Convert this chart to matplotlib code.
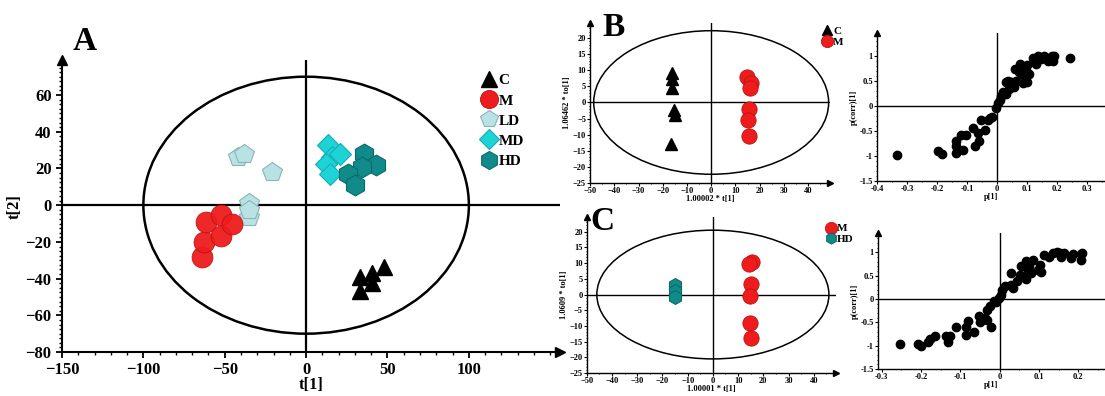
import numpy as np
import matplotlib
matplotlib.use('Agg')
import matplotlib.pyplot as plt
from matplotlib.patches import Ellipse
from matplotlib.ticker import MultipleLocator
from matplotlib.lines import Line2D

plt.rcParams['font.family'] = ['Liberation Serif', 'DejaVu Serif']
plt.rcParams['font.weight'] = 'bold'

# ---------------- data ----------------
# panel A, PCA scores
a_c_x = [33.3, 40.6, 48, 33.3, 40.6]
a_c_y = [-39, -37, -33.5, -47, -42.6]
a_m_x = [-64, -62.5, -61.4, -52, -52, -45.4]
a_m_y = [-28, -20, -9, -5.4, -17, -10]
a_ld_x = [-41.7, -38, -21, -35.4, -35.4, -35.4]
a_ld_y = [26.3, 28, 18, 1, -6.3, -2.5]
a_md_x = [13.5, 15.6, 20.8, 12.5, 14.6]
a_md_y = [32.6, 26, 28, 22.6, 17.2]
a_hd_x = [35.4, 42.7, 34.4, 26, 30.2]
a_hd_y = [28, 21.7, 20.8, 17.2, 10.9]

# panel B, OPLS-DA scores C vs M
b_c_x = [-16, -16, -16, -15.5, -15, -16.5]
b_c_y = [9.2, 7.3, 4.6, -2.2, -4, -12.8]
b_m_x = [14.8, 16.5, 16, 15.5, 15, 15.5]
b_m_y = [8, 6.2, 4.4, -1.9, -5.5, -10.5]

# panel B, S-plot
bs_x = [-0.333, -0.197, -0.182, -0.138, -0.138, -0.136, -0.119, -0.102, -0.113, -0.08,
        -0.074, -0.063, -0.06, -0.052, -0.038, -0.03, -0.024, -0.016, -0.004, 0.003,
        0.009, 0.014, 0.022, 0.031, 0.029, 0.042, 0.048, 0.056, 0.059, 0.073,
        0.078, 0.084, 0.087, 0.096, 0.101, 0.109, 0.12, 0.131, 0.137, 0.148,
        0.156, 0.17, 0.184, 0.189, 0.19, 0.244, 0.1, 0.038, 0.065, 0.125]
bs_y = [-0.99, -0.91, -0.96, -0.95, -0.81, -0.7, -0.58, -0.58, -0.88, -0.45,
        -0.81, -0.55, -0.7, -0.28, -0.48, -0.28, -0.25, -0.22, -0.05, 0.05,
        0.11, 0.19, 0.28, 0.23, 0.48, 0.34, 0.48, 0.38, 0.73, 0.68,
        0.83, 0.64, 0.46, 0.71, 0.82, 0.63, 0.96, 0.84, 1.0, 0.94,
        1.0, 0.89, 1.0, 0.89, 1.0, 0.95, 0.48, 0.5, 0.5, 0.9]

# panel C, OPLS-DA scores M vs HD
c_m_x = [15.5, 14.5, 15, 14.8, 14.8, 15]
c_m_y = [10.5, 9.6, 3.5, -0.5, -9.2, -14]
c_hd_x = [-15, -15, -15]
c_hd_y = [3.2, 1.2, -0.8]

# panel C, S-plot
cs_x = [-0.254, -0.208, -0.199, -0.182, -0.176, -0.163, -0.137, -0.131, -0.125, -0.11,
        -0.086, -0.086, -0.081, -0.064, -0.051, -0.049, -0.038, -0.032, -0.032, -0.024,
        -0.021, -0.015, -0.008, -0.002, 0.004, 0.007, 0.013, 0.03, 0.03, 0.034,
        0.044, 0.051, 0.055, 0.061, 0.068, 0.066, 0.072, 0.076, 0.08, 0.085,
        0.097, 0.102, 0.106, 0.114, 0.125, 0.136, 0.146, 0.153, 0.157, 0.165,
        0.182, 0.186, 0.208, 0.208, 0.21]
cs_y = [-0.96, -0.96, -1.0, -0.91, -0.86, -0.8, -0.8, -0.91, -0.8, -0.6,
        -0.76, -0.59, -0.48, -0.71, -0.37, -0.5, -0.41, -0.44, -0.23, -0.14,
        -0.6, -0.05, -0.07, 0.02, 0.09, 0.19, 0.29, 0.31, 0.56, 0.24,
        0.38, 0.52, 0.7, 0.7, 0.82, 0.43, 0.59, 0.7, 0.56, 0.84,
        0.63, 0.74, 0.58, 0.95, 0.91, 0.99, 1.0, 0.99, 0.91, 0.99,
        0.88, 0.96, 0.96, 0.83, 0.99]

red = '#ee1c1c'
ld_col = '#b9e2e4'
md_col = '#1ed3d6'
hd_col = '#118a8a'

st_c = dict(marker='^', color='black')
st_m = dict(marker='o', mfc=red, mec='#c01010', mew=0.6)
st_ld = dict(marker='p', mfc=ld_col, mec='#8ab5b8', mew=0.8)
st_md = dict(marker='D', mfc=md_col, mec='#12b0b4', mew=0.8)
st_hd = dict(marker='h', mfc=hd_col, mec='#0b6b6b', mew=0.8)

fig = plt.figure(figsize=(11.05, 3.96), dpi=100)


def arrow_axes(ax, right_arrow=True, ms=6):
    for s in ['top', 'right']:
        ax.spines[s].set_visible(False)
    for s in ['left', 'bottom']:
        ax.spines[s].set_linewidth(1.5)
    ax.plot(0, 1, marker='^', color='black', ms=ms, transform=ax.transAxes, clip_on=False)
    if right_arrow:
        ax.plot(1, 0, marker='>', color='black', ms=ms, transform=ax.transAxes, clip_on=False)


# ---------------- panel A ----------------
ax = fig.add_axes([0.0561, 0.111, 0.4507, 0.737])
ax.set_xlim(-150, 156)
ax.set_ylim(-80, 79)
ax.axhline(0, color='black', lw=1.6)
ax.axvline(0, color='black', lw=1.6)
ax.add_patch(Ellipse((0, 0), 200, 140, fill=False, lw=1.8, color='black'))
ax.plot(a_ld_x, a_ld_y, ls='none', ms=15, **st_ld)
ax.plot(a_m_x, a_m_y, ls='none', ms=15, alpha=0.95, **st_m)
ax.plot(a_md_x, a_md_y, ls='none', ms=11, **st_md)
ax.plot(a_hd_x, a_hd_y, ls='none', ms=15, **st_hd)
ax.plot(a_c_x, a_c_y, ls='none', ms=12, **st_c)
arrow_axes(ax, ms=7)
ax.xaxis.set_minor_locator(MultipleLocator(10))
ax.yaxis.set_minor_locator(MultipleLocator(2.5))
ax.set_xticks([-150, -100, -50, 0, 50, 100])
ax.set_yticks([-80, -60, -40, -20, 0, 20, 40, 60])
ax.tick_params(labelsize=12, width=1.3, length=4)
ax.tick_params(which='minor', length=2.5, width=1)
ax.set_xlabel('t[1]', fontsize=12, fontweight='bold', labelpad=-1)
ax.set_ylabel('t[2]', fontsize=12, fontweight='bold', labelpad=2)
handles = [Line2D([], [], ls='none', ms=11, **st_c),
           Line2D([], [], ls='none', ms=13, **st_m),
           Line2D([], [], ls='none', ms=13, **st_ld),
           Line2D([], [], ls='none', ms=10, **st_md),
           Line2D([], [], ls='none', ms=13, **st_hd)]
ax.legend(handles, ['C', 'M', 'LD', 'MD', 'HD'], loc='upper left', bbox_to_anchor=(0.815, 0.99),
          frameon=False, fontsize=11, handletextpad=0.0, labelspacing=0.42, borderpad=0.2,
          handlelength=1.3)
fig.text(0.077, 0.895, 'A', fontsize=24, fontweight='bold', ha='center', va='center')


def score_panel(rect, xs_list, ys_list, styles, sizes, labels, ylab, xlab, ell, letter,
                letter_pos, leg_anchor):
    ax = fig.add_axes(rect)
    ax.set_xlim(-50, 49)
    ax.set_ylim(-25, 24.7)
    ax.axhline(0, color='black', lw=1)
    ax.axvline(0, color='black', lw=1)
    ax.add_patch(Ellipse((0, 0), 2 * ell[0], 2 * ell[1], fill=False, lw=1.1, color='black'))
    hs = []
    for xs, ys, st, sz in zip(xs_list, ys_list, styles, sizes):
        ax.plot(xs, ys, ls='none', ms=sz, **st)
    for st, sz in zip(styles, sizes):
        hs.append(Line2D([], [], ls='none', ms=sz * 0.8, **st))
    arrow_axes(ax, ms=4)
    ax.spines['left'].set_linewidth(1)
    ax.spines['bottom'].set_linewidth(1)
    ax.xaxis.set_minor_locator(MultipleLocator(5))
    ax.yaxis.set_minor_locator(MultipleLocator(1))
    ax.set_xticks(np.arange(-50, 41, 10))
    ax.set_yticks(np.arange(-25, 21, 5))
    ax.tick_params(labelsize=6, length=2, width=0.8, pad=1)
    ax.tick_params(which='minor', length=1, width=0.6)
    ax.set_xlabel(xlab, fontsize=6, fontweight='bold', labelpad=0)
    ax.set_ylabel(ylab, fontsize=6, fontweight='bold', labelpad=1)
    ax.legend(hs, labels, loc='upper left', bbox_to_anchor=leg_anchor, frameon=False,
              fontsize=8, handletextpad=0.0, labelspacing=0.1, borderpad=0.1, handlelength=1.1)
    fig.text(letter_pos[0], letter_pos[1], letter, fontsize=24, fontweight='bold',
             ha='center', va='center')
    return ax


def s_panel(rect, xs, ys, xlim, ylim, xticks):
    ax = fig.add_axes(rect)
    ax.set_xlim(*xlim)
    ax.set_ylim(*ylim)
    ax.axhline(0, color='black', lw=1)
    ax.axvline(0, color='black', lw=1)
    ax.plot(xs, ys, 'o', color='black', ms=6, ls='none')
    arrow_axes(ax, right_arrow=False, ms=4)
    ax.spines['left'].set_linewidth(1)
    ax.spines['bottom'].set_linewidth(1)
    ax.set_xticks(xticks)
    ax.set_xticklabels(['%g' % t for t in xticks])
    ax.xaxis.set_minor_locator(MultipleLocator(0.05))
    ax.set_yticks([-1.5, -1, -0.5, 0, 0.5, 1])
    ax.set_yticklabels(['-1.5', '-1', '-0.5', '0', '0.5', '1'])
    ax.yaxis.set_minor_locator(MultipleLocator(0.1))
    ax.tick_params(labelsize=6, length=2, width=0.8, pad=1)
    ax.tick_params(which='minor', length=1, width=0.6)
    ax.set_xlabel('p[1]', fontsize=6, fontweight='bold', labelpad=0)
    ax.set_ylabel('p(corr)[1]', fontsize=6, fontweight='bold', labelpad=1)
    return ax


score_panel([0.534, 0.538, 0.217, 0.404],
            [b_c_x, b_m_x], [b_c_y, b_m_y], [st_c, st_m], [9, 11],
            ['C', 'M'], '1.06462 * to[1]', '1.00002 * t[1]', (48.5, 22.3), 'B', (0.555, 0.93),
            (0.935, 1.02))

score_panel([0.531, 0.058, 0.226, 0.394],
            [c_m_x, c_hd_x], [c_m_y, c_hd_y], [st_m, st_hd], [11, 10],
            ['M', 'HD'], '1.0609 * to[1]', '1.00001 * t[1]', (46, 20.5), 'C', (0.545, 0.44),
            (0.925, 1.0))

s_panel([0.7937, 0.543, 0.206, 0.374], bs_x, bs_y, (-0.4, 0.36), (-1.5, 1.46),
        [-0.4, -0.3, -0.2, -0.1, 0, 0.1, 0.2, 0.3])
s_panel([0.7946, 0.068, 0.205, 0.343], cs_x, cs_y, (-0.309, 0.267), (-1.5, 1.41),
        [-0.3, -0.2, -0.1, 0, 0.1, 0.2])

fig.savefig('out.png', dpi=100)
